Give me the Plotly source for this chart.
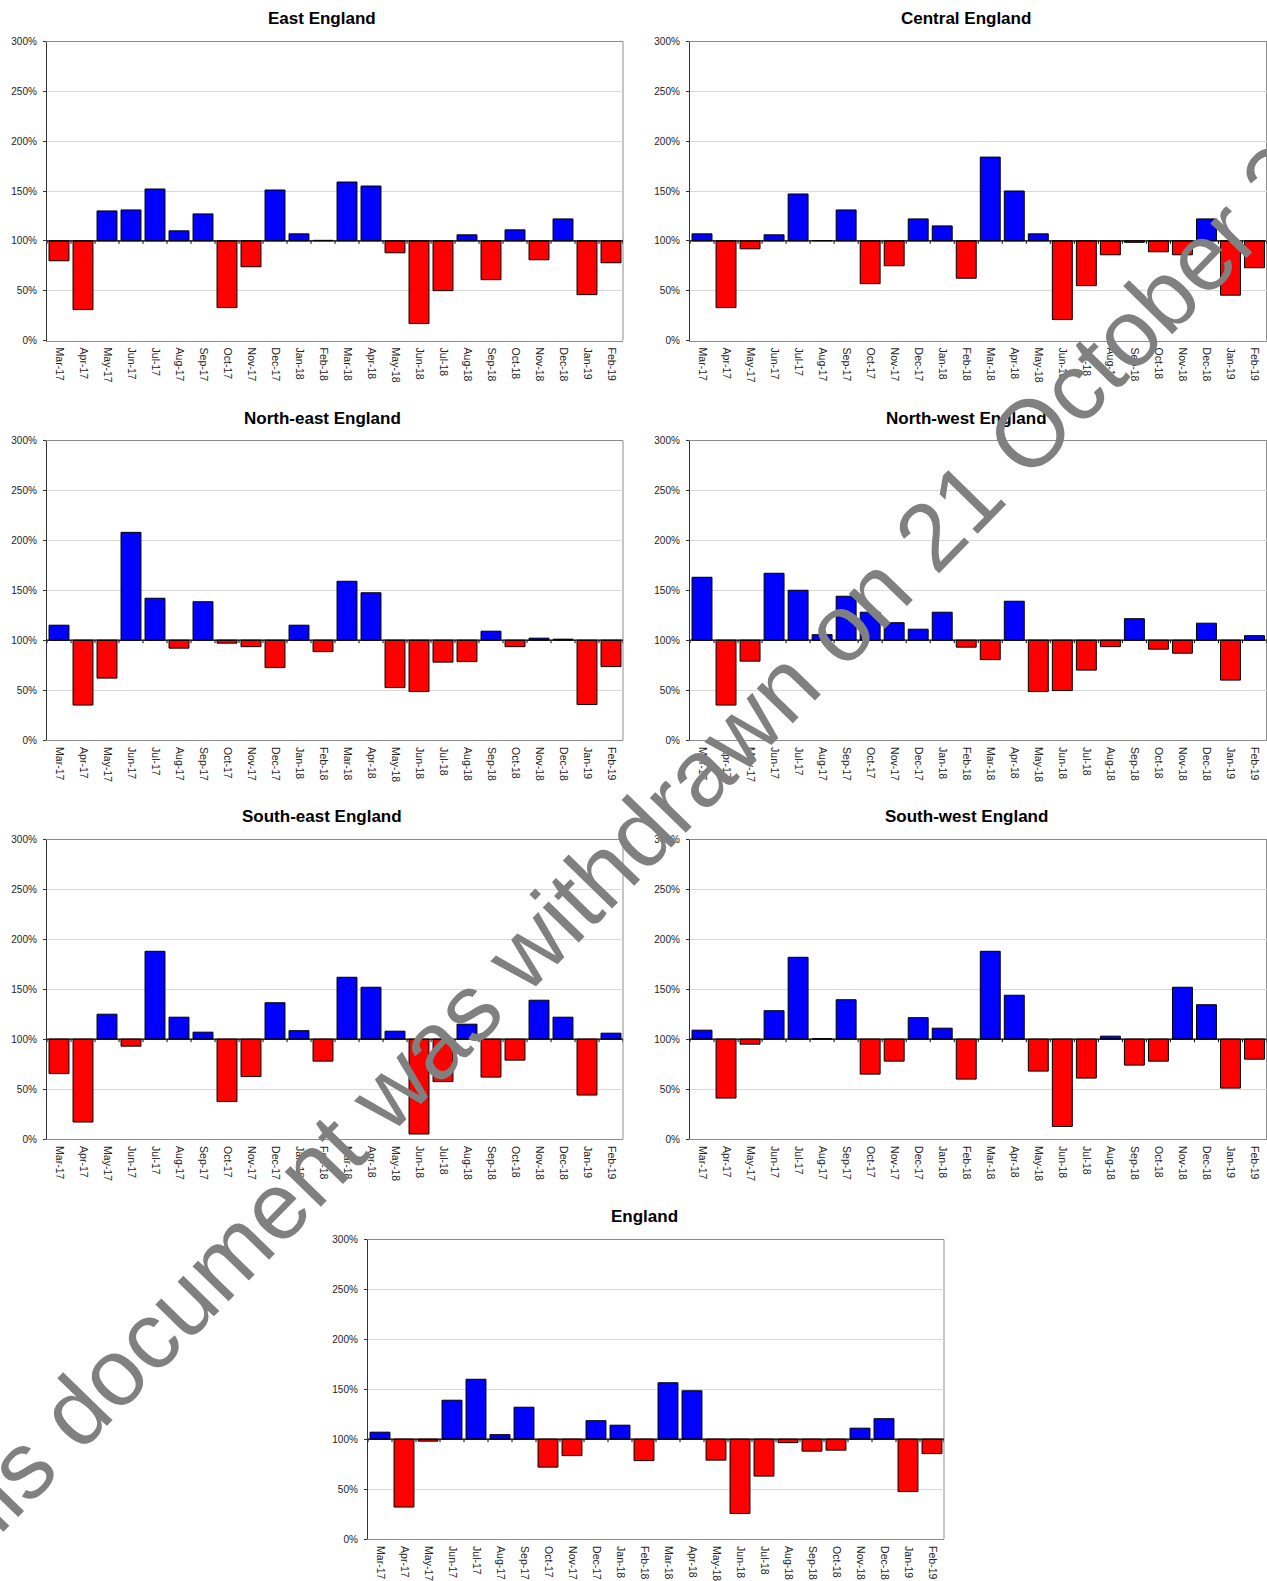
import plotly.graph_objects as go

# Month categories shared by every panel
months = ["Mar-17", "Apr-17", "May-17", "Jun-17", "Jul-17", "Aug-17", "Sep-17",
          "Oct-17", "Nov-17", "Dec-17", "Jan-18", "Feb-18", "Mar-18", "Apr-18",
          "May-18", "Jun-18", "Jul-18", "Aug-18", "Sep-18", "Oct-18", "Nov-18",
          "Dec-18", "Jan-19", "Feb-19"]

# Monthly index values (%), 100% = baseline
east = [80, 31, 130, 131, 152, 110, 127, 33, 74, 151, 107, 100.5,
        159, 155, 88, 17, 50, 106, 61, 111, 81, 122, 46, 78]
central = [107, 33, 92, 106, 147, 100.3, 131, 57, 75, 122, 115, 62.5,
           184, 150, 107, 21, 55, 86, 98.5, 89, 86, 122, 45.5, 73]
north_east = [115, 35, 62, 208, 142, 92, 138.5, 97, 93.5, 72.5, 115, 88.5,
              159, 147.5, 52.5, 48.5, 78, 78.5, 109, 93.5, 102, 101, 35.5, 73.5]
north_west = [163, 35, 79, 167, 150, 105.5, 144, 128, 117.5, 111, 128, 93,
              80.5, 139, 48.5, 49.5, 70, 93.5, 121.5, 91, 87, 117, 60, 104.5]
south_east = [65.5, 17, 125, 93, 188, 122, 107, 37.5, 62.5, 136.5, 108.5, 78,
              162, 152, 108, 5, 57.5, 115, 62, 79, 139, 122, 44, 106]
south_west = [109, 41, 95, 128.5, 182, 100.5, 139.5, 65, 78, 121.5, 111, 60,
              188, 144, 68, 12.5, 61, 103, 74, 78, 152, 134.5, 51, 80]
england = [107, 32, 98, 139, 160, 104.5, 132, 72, 83.5, 118.5, 114, 78.5,
           156.5, 148.5, 79, 25.5, 63, 96.5, 88, 89, 111, 120.5, 47.5, 85.5]

titles = ["East England", "Central England", "North-east England",
          "North-west England", "South-east England", "South-west England",
          "England"]
series = [east, central, north_east, north_west, south_east, south_west, england]

y_ticks = [0, 50, 100, 150, 200, 250, 300]
y_tick_text = ["0%", "50%", "100%", "150%", "200%", "250%", "300%"]
baseline = 100

W, H = 1267, 1581
FONT = "Liberation Sans, Arial, sans-serif"

# Plot-area boxes in pixels: (left, right, top, bottom) and title centre (x, y)
boxes = [
    (47, 623, 41.5, 340.5), (690, 1266.5, 41.5, 340.5),
    (47, 623, 440.5, 740), (690, 1266.5, 440.5, 740),
    (47, 623, 839.5, 1139), (690, 1266.5, 839.5, 1139),
    (368, 944, 1239.5, 1539),
]
title_pos = [(322, 18.5), (966, 18.5), (322, 418), (966, 418),
             (322, 816), (966, 816), (645, 1216)]

fig = go.Figure()
shapes = []
annotations = []

for i, (name, vals) in enumerate(zip(titles, series)):
    n = i + 1
    xa = "x" if n == 1 else f"x{n}"
    ya = "y" if n == 1 else f"y{n}"
    colors = ["#0000FF" if v >= baseline else "#FF0000" for v in vals]
    fig.add_trace(go.Bar(
        x=months, y=[v - baseline for v in vals], base=baseline,
        marker=dict(color=colors, line=dict(color="#000000", width=1)),
        xaxis=xa, yaxis=ya, showlegend=False,
    ))
    l, r, t, b = boxes[i]
    xdom = [l / W, r / W]
    ydom = [1 - b / H, 1 - t / H]
    fig.layout[f"xaxis{'' if n == 1 else n}"] = dict(
        domain=xdom, anchor=ya, type="category", range=[-0.5, len(months) - 0.5],
        automargin=False,
        showline=True, linecolor="#8c8c8c", linewidth=1, mirror=True,
        ticks="", tickangle=90, ticklabelstandoff=4,
        tickfont=dict(family=FONT, size=10.5, color="#222222"),
        showgrid=False, zeroline=False, fixedrange=True,
    )
    fig.layout[f"yaxis{'' if n == 1 else n}"] = dict(
        domain=ydom, anchor=xa, range=[0, 300], automargin=False,
        tickmode="array", tickvals=y_ticks, ticktext=y_tick_text,
        showline=True, linecolor="#333333", linewidth=1.3,
        ticks="outside", ticklen=3, tickcolor="#333333", tickwidth=1,
        ticklabelstandoff=4,
        tickfont=dict(family=FONT, size=10, color="#222222"),
        showgrid=True, gridcolor="#d9d9d9", gridwidth=1,
        zeroline=False, fixedrange=True,
    )
    # right edge of the plot frame
    shapes.append(dict(type="line", xref=f"{xa} domain", yref=f"{ya} domain",
                       x0=1, x1=1, y0=0, y1=1,
                       line=dict(color="#8c8c8c", width=1), layer="below"))
    # category axis crossing at 100% with boundary tick marks
    shapes.append(dict(type="line", xref=f"{xa} domain", yref=ya,
                       x0=0, x1=1, y0=baseline, y1=baseline,
                       line=dict(color="#000000", width=1.3), layer="above"))
    for k in range(len(months) + 1):
        shapes.append(dict(type="line", xref=xa, yref=ya,
                           x0=k - 0.5, x1=k - 0.5, y0=baseline, y1=baseline - 3,
                           line=dict(color="#000000", width=1), layer="above"))
    tx, ty = title_pos[i]
    annotations.append(dict(text=f"<b>{name}</b>", xref="paper", yref="paper",
                            x=tx / W, y=1 - ty / H, xanchor="center", yanchor="middle",
                            showarrow=False,
                            font=dict(family=FONT, size=17, color="#000000")))

# diagonal withdrawal stamp across the page
annotations.append(dict(
    text="This document was withdrawn on 21 October 2020",
    xref="paper", yref="paper", x=660 / W, y=1 - 812 / H,
    xanchor="center", yanchor="middle", showarrow=False, textangle=-45.7,
    font=dict(family=FONT, size=95, color="#808080"),
))

fig.update_layout(
    template="none",
    width=W, height=H, margin=dict(l=0, r=0, t=0, b=0, pad=0, autoexpand=False),
    paper_bgcolor="#ffffff", plot_bgcolor="#ffffff",
    bargap=0.17, shapes=shapes, annotations=annotations,
)

fig.write_html("out.html")
